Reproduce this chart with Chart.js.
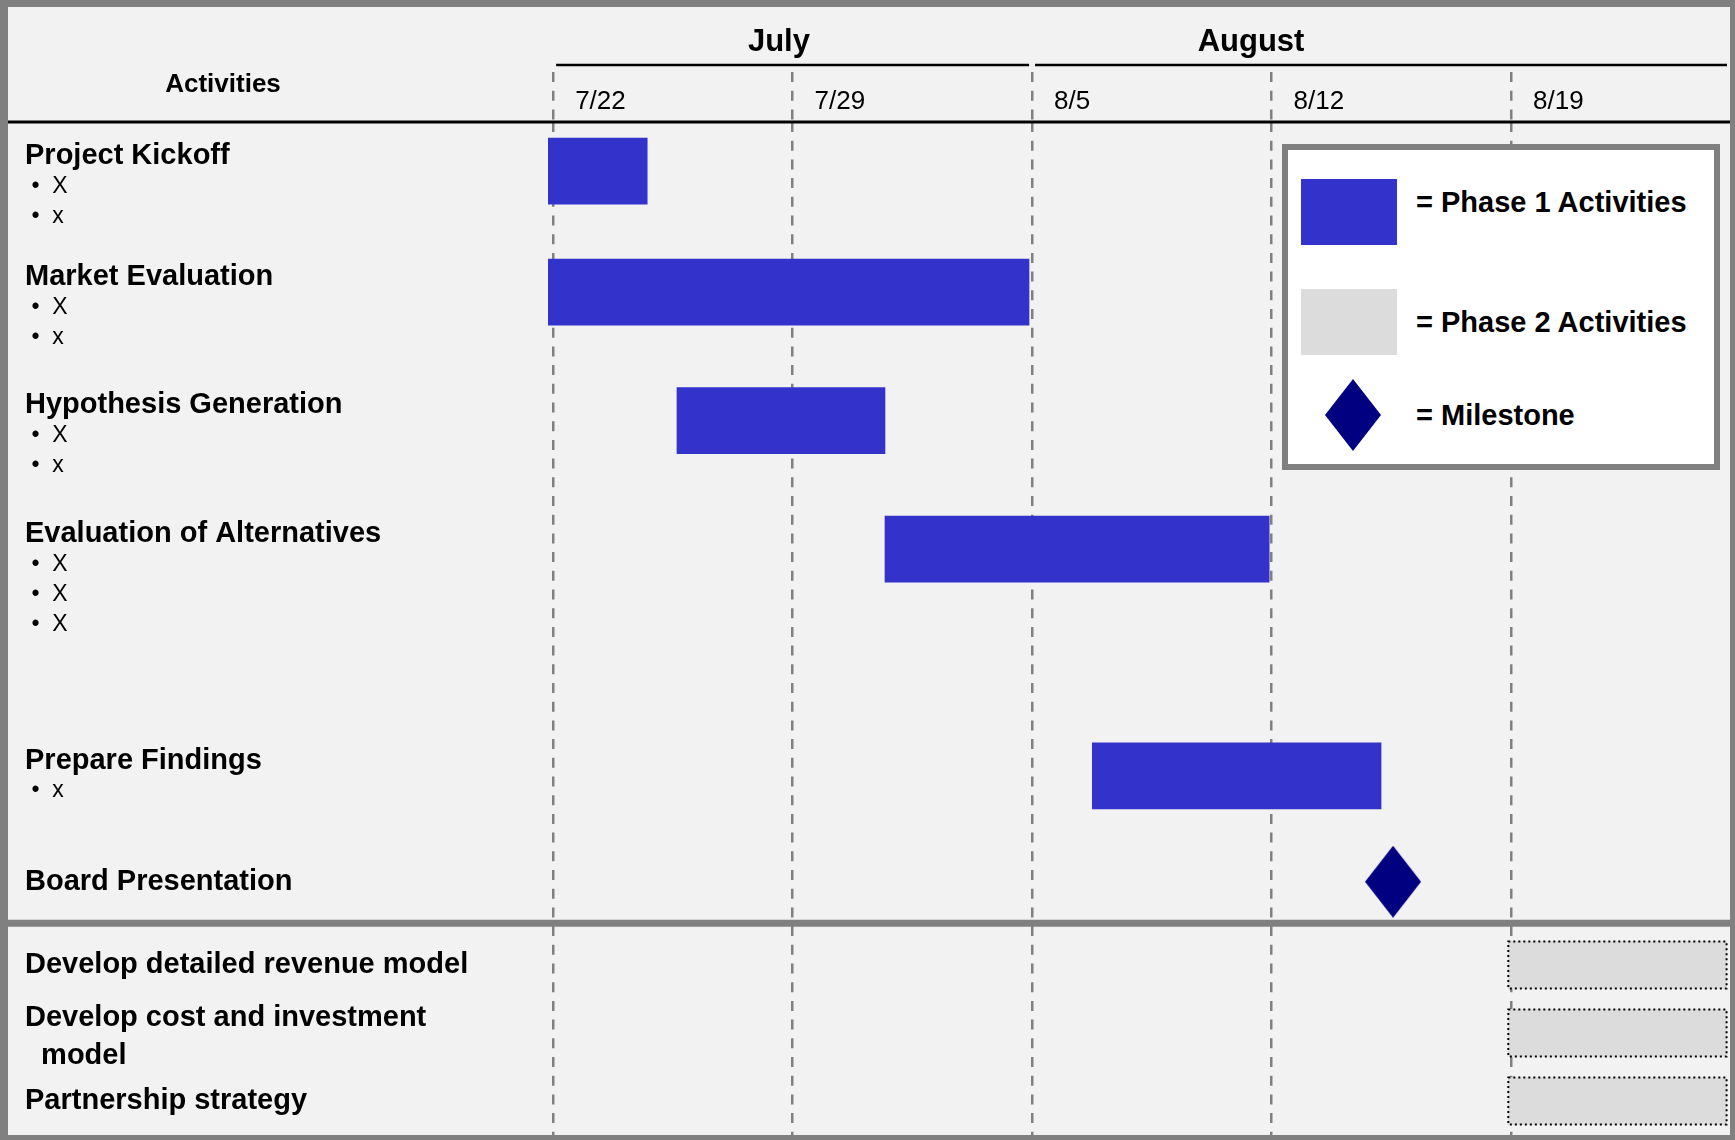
<!DOCTYPE html>
<html>
<head>
<meta charset="utf-8">
<title>Project timeline</title>
<script src="https://cdn.jsdelivr.net/npm/chart.js@4.4.1/dist/chart.umd.min.js"></script>
<style>
  html, body { margin: 0; padding: 0; background: #f2f2f2; }
  #frame {
    position: relative;
    width: 1735px;
    height: 1140px;
    box-sizing: border-box;
    border-style: solid;
    border-color: #808080;
    border-width: 7px 5px 5px 8px;
    background: #f2f2f2;
    font-family: 'Liberation Sans', Arial, sans-serif;
  }
  #chartBox { position: absolute; left: 0; top: 0; width: 1722px; height: 1128px; }
  #legend {
    position: absolute;
    left: 1274px;
    top: 137px;
    width: 438px;
    height: 326px;
    box-sizing: border-box;
    border: 6px solid #808080;
    background: #fff;
  }
  .legend-swatch { position: absolute; }
  .legend-text {
    position: absolute;
    left: 128px;
    font-weight: bold;
    font-size: 29px;
    line-height: 1;
    color: #000;
    white-space: nowrap;
    transform: translateY(-50%);
  }
</style>
</head>
<body>
<div id="frame">
  <div id="chartBox"><canvas id="chart"></canvas></div>
  <div id="legend"></div>
</div>
<script>
// activities, top to bottom
const activities = [
  'Project Kickoff',
  'Market Evaluation',
  'Hypothesis Generation',
  'Evaluation of Alternatives',
  'Prepare Findings',
  'Board Presentation',
  'Develop detailed revenue model',
  'Develop cost and investment model',
  'Partnership strategy'
];
const activityNotes = [['X', 'x'], ['X', 'x'], ['X', 'x'], ['X', 'X', 'X'], ['x'], [], [], [], []];
const activityPhase = ['Phase 1', 'Phase 1', 'Phase 1', 'Phase 1', 'Phase 1', 'Milestone', 'Phase 2', 'Phase 2', 'Phase 2'];

// days counted from 7/22
const startDay = [-0.15, -0.15, 3.62, 9.70, 15.76, 24.55, 27.92, 27.92, 27.92];
const endDay = [2.75, 13.91, 9.70, 20.93, 24.20, 24.55, 34.30, 34.30, 34.30];

const weekLabels = ['7/22', '7/29', '8/5', '8/12', '8/19'];
const monthLabels = ['July', 'August'];
const monthLabelDay = [6.6, 20.4];
const monthStartDay = [0, 14];
const monthEndDay = [14, 34.4];

const DAY_MIN = -0.15;
const DAY_MAX = 34.4;

// left column layout, in quarter text lines
const gapBefore = [4, 7, 8, 8, 17, 11, 10, 6, 5];
const gapAfter = 4;
const wrapTitle = { 'Develop cost and investment model': ['Develop cost and investment', 'model'] };

const legendSwatchTop = [29, 139, 229];
const legendTextMid = [52, 172, 265];

Chart.defaults.font.family = "'Liberation Sans', Arial, sans-serif";
Chart.defaults.color = '#000';

// one category per quarter line of the left column
const slotText = [];
const slotKind = [];
const barSlot = [];

function pushSlot(text, kind) {
  slotText.push(text);
  slotKind.push(kind);
}

activities.forEach((name, i) => {
  for (let g = 0; g < gapBefore[i]; g++) pushSlot('', 'blank');
  const titleLines = wrapTitle[name] || [name];
  const extra = titleLines.slice(1).map(t => ({ text: '  ' + t, kind: 'title' }))
    .concat(activityNotes[i].map(n => ({ text: ' \u2022  ' + n, kind: 'note' })));
  const titleSlot = slotText.length;
  pushSlot(titleLines[0], 'title');
  if (extra.length === 0) {
    barSlot.push(titleSlot);
    return;
  }
  barSlot.push(titleSlot + 2);
  extra.forEach(line => {
    // bold wrapped lines sit a little further apart than the notes
    const blanks = line.kind === 'title' ? 4 : 3;
    for (let g = 0; g < blanks; g++) pushSlot('', 'blank');
    pushSlot(line.text, line.kind);
  });
});
for (let g = 0; g < gapAfter; g++) pushSlot('', 'blank');

function phaseData(phase) {
  const data = slotText.map(() => null);
  activities.forEach((name, i) => {
    if (activityPhase[i] === phase) data[barSlot[i]] = [startDay[i], endDay[i]];
  });
  return data;
}

const milestones = activities
  .map((name, i) => activityPhase[i] === 'Milestone' ? { x: startDay[i], y: name } : null)
  .filter(Boolean);

function makeDiamond(color) {
  const c = document.createElement('canvas');
  c.width = 56;
  c.height = 72;
  const g = c.getContext('2d');
  g.fillStyle = color;
  g.beginPath();
  g.moveTo(28, 0);
  g.lineTo(56, 36);
  g.lineTo(28, 72);
  g.lineTo(0, 36);
  g.closePath();
  g.fill();
  return c;
}

const ganttDecor = {
  id: 'ganttDecor',
  afterDatasetsDraw(chart) {
    const { ctx, chartArea, scales } = chart;
    const x = scales.x;
    const y = scales.y;
    const xm = scales.xMonth;
    ctx.save();

    // dotted outline on phase 2 bars
    chart.data.datasets.forEach((ds, di) => {
      if (!ds.dotted) return;
      chart.getDatasetMeta(di).data.forEach((bar, j) => {
        if (ds.data[j] == null) return;
        const p = bar.getProps(['x', 'y', 'base', 'height'], true);
        const left = Math.min(p.base, p.x);
        const right = Math.max(p.base, p.x);
        ctx.strokeStyle = '#000';
        ctx.lineWidth = 2;
        ctx.setLineDash([2, 3]);
        ctx.strokeRect(left, p.y - p.height / 2, right - left, p.height);
      });
    });
    ctx.setLineDash([]);

    // rule under the header row
    ctx.strokeStyle = '#000';
    ctx.lineWidth = 3;
    ctx.beginPath();
    ctx.moveTo(0, chartArea.top);
    ctx.lineTo(chart.width, chartArea.top);
    ctx.stroke();

    // month underlines
    ctx.lineWidth = 2.5;
    monthLabels.forEach((m, i) => {
      const x1 = x.getPixelForValue(monthStartDay[i]) + 3;
      const x2 = Math.min(x.getPixelForValue(monthEndDay[i]), chartArea.right) - 3;
      ctx.beginPath();
      ctx.moveTo(x1, xm.bottom);
      ctx.lineTo(x2, xm.bottom);
      ctx.stroke();
    });

    // phase 1 / phase 2 separator
    const lastP1 = activityPhase.findIndex(p => p === 'Phase 2') - 1;
    const sepY = y.getPixelForValue((barSlot[lastP1] + barSlot[lastP1 + 1]) / 2);
    ctx.strokeStyle = '#808080';
    ctx.lineWidth = 7;
    ctx.beginPath();
    ctx.moveTo(0, sepY);
    ctx.lineTo(chart.width, sepY);
    ctx.stroke();

    // column header
    ctx.fillStyle = '#000';
    ctx.font = "bold 26px 'Liberation Sans', Arial, sans-serif";
    ctx.textAlign = 'center';
    ctx.textBaseline = 'middle';
    ctx.fillText('Activities', y.left + 198, chartArea.top - 37);

    ctx.restore();
  }
};

const diamond = makeDiamond('#000080');

const chart = new Chart(document.getElementById('chart'), {
  type: 'bar',
  data: {
    labels: slotText,
    datasets: [
      {
        label: 'Phase 1 Activities',
        data: phaseData('Phase 1'),
        backgroundColor: '#3333cc',
        barThickness: 66,
        grouped: false,
        xAxisID: 'x',
        yAxisID: 'y'
      },
      {
        label: 'Phase 2 Activities',
        data: phaseData('Phase 2'),
        backgroundColor: '#dcdcdc',
        barThickness: 47,
        grouped: false,
        dotted: true,
        xAxisID: 'x',
        yAxisID: 'y'
      },
      {
        type: 'scatter',
        label: 'Milestone',
        data: milestones,
        pointStyle: diamond,
        pointRadius: 28,
        backgroundColor: '#000080',
        borderColor: '#000080',
        xAxisID: 'x',
        yAxisID: 'y'
      }
    ]
  },
  options: {
    indexAxis: 'y',
    responsive: true,
    maintainAspectRatio: false,
    animation: false,
    events: [],
    layout: { padding: { left: 17, top: 0, right: 0, bottom: 0 }, autoPadding: false },
    plugins: {
      legend: { display: false },
      tooltip: { enabled: false }
    },
    scales: {
      x: {
        type: 'linear',
        position: 'top',
        min: DAY_MIN,
        max: DAY_MAX,
        bounds: 'data',
        afterBuildTicks: (scale) => {
          scale.ticks = weekLabels.map((_, i) => ({ value: i * 7 }));
        },
        ticks: {
          autoSkip: false,
          maxRotation: 0,
          align: 'start',
          labelOffset: 22,
          padding: -45,
          font: { size: 26 },
          callback: (v, i) => weekLabels[i]
        },
        grid: {
          color: '#808080',
          lineWidth: 2.5,
          tickLength: 50,
          tickColor: '#808080',
          tickWidth: 2.5,
          tickBorderDash: [10, 8.7]
        },
        border: { display: false, dash: [10, 8.7] },
        afterFit: (scale) => {
          scale.height = 57;
          scale.paddingLeft = 0;
          scale.paddingRight = 0;
        }
      },
      xMonth: {
        type: 'linear',
        position: 'top',
        weight: 1,
        min: DAY_MIN,
        max: DAY_MAX,
        bounds: 'data',
        afterBuildTicks: (scale) => {
          scale.ticks = monthLabelDay.map(v => ({ value: v }));
        },
        ticks: {
          autoSkip: false,
          maxRotation: 0,
          padding: 4,
          font: { size: 31, weight: 'bold' },
          callback: (v, i) => monthLabels[i]
        },
        grid: { display: false, drawTicks: false },
        border: { display: false },
        afterFit: (scale) => {
          scale.height = 58;
          scale.paddingLeft = 0;
          scale.paddingRight = 0;
        }
      },
      y: {
        type: 'category',
        offset: true,
        grid: { display: false, drawTicks: false },
        border: { display: false },
        ticks: {
          autoSkip: false,
          crossAlign: 'far',
          padding: 0,
          font: (ctx) => slotKind[ctx.index] === 'note'
            ? { size: 23, weight: 'normal' }
            : { size: 29, weight: 'bold' }
        },
        afterFit: (scale) => {
          scale.width = 523;
          scale.paddingTop = 0;
          scale.paddingBottom = 0;
        }
      }
    }
  },
  plugins: [ganttDecor]
});

function renderLegend(chart) {
  const box = document.getElementById('legend');
  chart.data.datasets.forEach((ds, i) => {
    let sw;
    if (ds.pointStyle instanceof HTMLCanvasElement) {
      sw = makeDiamond(ds.backgroundColor);
      sw.style.left = '37px';
    } else {
      sw = document.createElement('div');
      sw.style.background = ds.backgroundColor;
      sw.style.left = '13px';
      sw.style.width = '96px';
      sw.style.height = '66px';
    }
    sw.className = 'legend-swatch';
    sw.style.top = legendSwatchTop[i] + 'px';
    const txt = document.createElement('div');
    txt.className = 'legend-text';
    txt.textContent = '= ' + ds.label;
    txt.style.top = legendTextMid[i] + 'px';
    box.appendChild(sw);
    box.appendChild(txt);
  });
}

renderLegend(chart);
</script>
</body>
</html>
